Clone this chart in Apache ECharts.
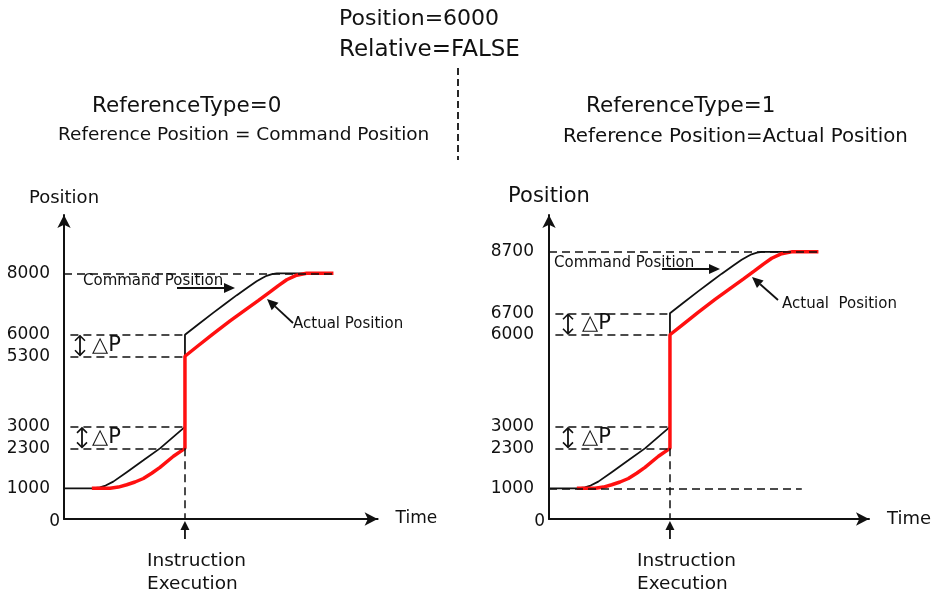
<!DOCTYPE html>
<html>
<head>
<meta charset="utf-8">
<script src="https://cdn.jsdelivr.net/npm/echarts@6/dist/echarts.min.js"></script>
<style>
  html, body { margin: 0; padding: 0; background: #fff; }
  #chart { width: 936px; height: 596px; }
</style>
</head>
<body>
<div id="chart"></div>
<script>
// time is in arbitrary units, the instruction executes at tExec
const tExec = 37.8;

// command position (black) -- same time base for both panels
const cmdTime      = [0, 8.7, 11.2, 13, 15.4, 19.6, 24.8, 30, 37.8, 37.8, 42, 46.7, 50.4, 54, 57.5, 60.2, 62, 63.3, 65, 66.5, 84];
const cmdPosLeft   = [1000, 1000, 1030, 1090, 1217, 1526, 1910, 2300, 3000, 6000, 6340, 6720, 7010, 7290, 7545, 7741, 7850, 7920, 7975, 8000, 8000];
const cmdPosRight  = [1000, 1000, 1030, 1090, 1217, 1526, 1910, 2300, 3000, 6700, 7040, 7420, 7710, 7990, 8245, 8441, 8550, 8620, 8675, 8700, 8700];

// actual position (red)
const actTime      = [8.7, 14.4, 17, 19.6, 22.2, 24.8, 27.4, 30, 34.2, 37.8, 37.8, 42, 46.7, 51.9, 57.1, 60.8, 64.4, 67, 69.6, 72.7, 75.8, 84.2];
const actPosLeft   = [1000, 1000, 1040, 1115, 1205, 1319, 1490, 1681, 2043, 2300, 5300, 5650, 6040, 6450, 6845, 7120, 7394, 7600, 7791, 7940, 8000, 8000];
const actPosRight  = [1000, 1000, 1040, 1115, 1205, 1319, 1490, 1681, 2043, 2300, 6000, 6350, 6740, 7150, 7545, 7820, 8094, 8300, 8491, 8640, 8700, 8700];

// tick labels
const ticksLeft  = [0, 1000, 2300, 3000, 5300, 6000, 8000];
const ticksRight = [0, 1000, 2300, 3000, 6000, 6700, 8700];

// ΔP pairs (command, actual) and final position
const deltaLeft  = [[6000, 5300], [3000, 2300]];
const deltaRight = [[6700, 6000], [3000, 2300]];
const finalLeft = 8000, finalRight = 8700;

const ink = '#111';
const red = '#ff1010';
const font = 'DejaVu Sans';

const zip = (xs, ys) => xs.map((x, i) => [x, ys[i]]);

function guideLines(final, deltas, tEnd, startPos) {
  const d = [[{ coord: [0, final] }, { coord: [tEnd, final] }]];
  deltas.forEach(p => p.forEach(v => d.push([{ coord: [2, v] }, { coord: [tExec, v] }])));
  d.push([{ coord: [tExec, deltas[1][1]] }, { coord: [tExec, 0] }]);
  if (startPos) d.push([{ coord: [0, startPos] }, { coord: [79, startPos] }]);
  return d;
}

function xAxisFor(g, max, nameSize) {
  return {
    gridIndex: g, type: 'value', min: 0, max: max,
    axisLine: { symbol: ['none', 'arrow'], symbolSize: [10, 13], lineStyle: { color: ink, width: 2 } },
    axisTick: { show: false }, axisLabel: { show: false }, splitLine: { show: false },
    name: 'Time', nameGap: 18,
    nameTextStyle: { fontFamily: font, fontSize: nameSize, color: ink, verticalAlign: 'middle' },
  };
}

function yAxisFor(g, ticks, nameSize, pad) {
  return {
    gridIndex: g, type: 'value', min: 0, max: 9900,
    axisLine: { symbol: ['none', 'arrow'], symbolSize: [10, 13], lineStyle: { color: ink, width: 2 } },
    axisTick: { show: false }, splitLine: { show: false },
    axisLabel: {
      customValues: ticks, margin: 4, color: ink, fontFamily: font, fontSize: 17,
      formatter: v => v === 0 ? '{z|0}' : '{n|' + v + '}',
      rich: {
        n: { padding: [0, pad, 0, 0], fontFamily: font, fontSize: 17, color: ink },
        z: { padding: [6, 0, 0, 0], fontFamily: font, fontSize: 17, color: ink },
      },
    },
    name: 'Position', nameGap: 8,
    nameTextStyle: { fontFamily: font, fontSize: nameSize, color: ink },
  };
}

function seriesFor(g, cmd, act, guides) {
  return [
    {
      type: 'line', xAxisIndex: g, yAxisIndex: g, data: [], silent: true,
      markLine: {
        silent: true, symbol: ['none', 'none'], label: { show: false }, animation: false,
        lineStyle: { color: ink, width: 1.5, type: [8, 5] },
        emphasis: { disabled: true },
        data: guides,
      },
    },
    {
      type: 'line', xAxisIndex: g, yAxisIndex: g, data: zip(cmdTime, cmd),
      showSymbol: false, lineStyle: { color: ink, width: 1.8 }, silent: true,
    },
    {
      type: 'line', xAxisIndex: g, yAxisIndex: g, data: zip(actTime, act),
      showSymbol: false, lineStyle: { color: red, width: 3.5 }, silent: true,
    },
  ];
}

const chart = echarts.init(document.getElementById('chart'));
chart.setOption({
  animation: false,
  grid: [
    { left: 64, top: 215, width: 313.6, height: 304 },
    { left: 549, top: 215, width: 320, height: 304 },
  ],
  xAxis: [xAxisFor(0, 98, 17), xAxisFor(1, 100, 18)],
  yAxis: [yAxisFor(0, ticksLeft, 18, 10), yAxisFor(1, ticksRight, 21, 11)],
  series: [
    ...seriesFor(0, cmdPosLeft, actPosLeft, guideLines(finalLeft, deltaLeft, 84.2)),
    ...seriesFor(1, cmdPosRight, actPosRight, guideLines(finalRight, deltaRight, 84.4, 1000)),
  ],
});

// ---- annotations ----
const px = (g, t, v) => chart.convertToPixel({ gridIndex: g }, [t, v]);

function text(x, y, s, size, align) {
  return {
    type: 'text', x: x, y: y, silent: true,
    style: { text: s, fill: ink, font: size + 'px "' + font + '"', textAlign: align || 'left', textVerticalAlign: 'middle' },
  };
}

function arrow(x1, y1, x2, y2, len, half) {
  const a = Math.atan2(y2 - y1, x2 - x1);
  const bx = x2 - len * Math.cos(a), by = y2 - len * Math.sin(a);
  const nx = -Math.sin(a) * half, ny = Math.cos(a) * half;
  return [
    { type: 'line', silent: true, shape: { x1: x1, y1: y1, x2: bx, y2: by }, style: { stroke: ink, lineWidth: 1.8 } },
    { type: 'polygon', silent: true, shape: { points: [[x2, y2], [bx + nx, by + ny], [bx - nx, by - ny]] }, style: { fill: ink } },
  ];
}

function deltaMark(g, offset, textOffset, pair) {
  const x = px(g, 0, 0)[0] + offset;
  const y1 = px(g, 0, pair[0])[1] + 1, y2 = px(g, 0, pair[1])[1] - 1;
  return [
    { type: 'line', silent: true, shape: { x1: x, y1: y1, x2: x, y2: y2 }, style: { stroke: ink, lineWidth: 1.8 } },
    { type: 'polyline', silent: true, shape: { points: [[x - 5, y1 + 5], [x, y1], [x + 5, y1 + 5]] }, style: { stroke: ink, lineWidth: 1.6, fill: null } },
    { type: 'polyline', silent: true, shape: { points: [[x - 5, y2 - 5], [x, y2], [x + 5, y2 - 5]] }, style: { stroke: ink, lineWidth: 1.6, fill: null } },
    text(px(g, 0, 0)[0] + textOffset, (y1 + y2) / 2, '△P', 21),
  ];
}

function execMark(g, textX) {
  const x = px(g, tExec, 0)[0];
  return [
    ...arrow(x, 539, x, 521, 9, 4.5),
    text(textX, 561, 'Instruction', 18.5),
    text(textX, 584, 'Execution', 18.5),
  ];
}

const graphics = [
  text(339, 19, 'Position=6000', 22),
  text(339, 50, 'Relative=FALSE', 23),
  { type: 'line', silent: true, shape: { x1: 458, y1: 68, x2: 458, y2: 160 }, style: { stroke: ink, lineWidth: 1.8, lineDash: [7, 4] } },

  text(92, 106, 'ReferenceType=0', 21.5),
  text(58, 135, 'Reference Position = Command Position', 18.5),
  text(586, 106, 'ReferenceType=1', 21.5),
  text(563, 137, 'Reference Position=Actual Position', 19.8),

  text(83, 281, 'Command Position', 15),
  ...arrow(177, 288, 235, 288, 11, 5),
  text(293, 324, 'Actual Position', 15),
  ...arrow(293, 323, 267, 299, 11, 5),

  text(554, 263, 'Command Position', 15),
  ...arrow(662, 269, 720, 269, 11, 5),
  text(782, 304, 'Actual  Position', 15),
  ...arrow(778, 300, 752, 277, 11, 5),

  ...deltaMark(0, 16, 28, deltaLeft[0]),
  ...deltaMark(0, 18, 28, deltaLeft[1]),
  ...deltaMark(1, 19, 33, deltaRight[0]),
  ...deltaMark(1, 19, 33, deltaRight[1]),

  ...execMark(0, 147),
  ...execMark(1, 637),
];

chart.setOption({ graphic: graphics });
</script>
</body>
</html>
